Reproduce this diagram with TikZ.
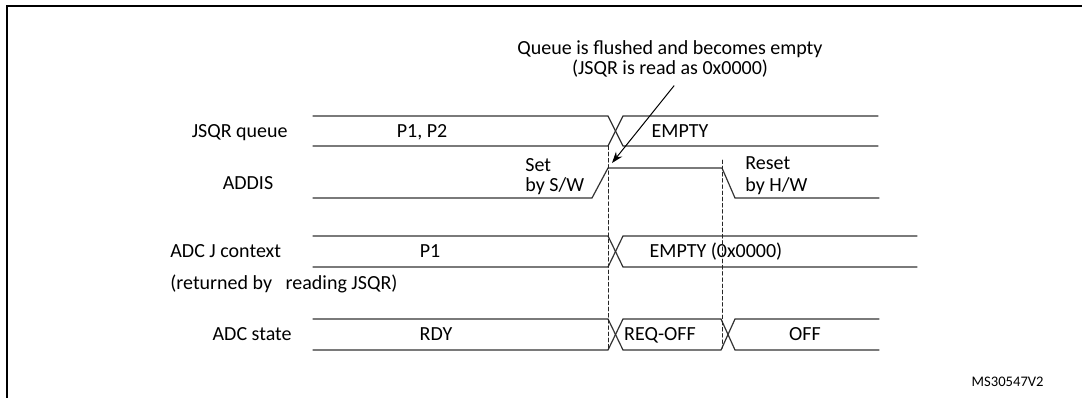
\documentclass[tikz,border=0pt]{standalone}
\usepackage{fontspec}
\setmainfont{Carlito}
\usetikzlibrary{arrows.meta}

\begin{document}
\begin{tikzpicture}[x=0.5pt,y=-0.5pt,>={Stealth[length=2mm,width=1.4mm]},font=\fontsize{10}{12}\selectfont,line cap=round,
  txt/.style={inner sep=0pt,text height=6.4pt,text depth=0pt},
  sig/.style={black!80,line width=0.6pt},
  mark line/.style={black!85,line width=0.5pt,dash pattern=on 1.8pt off 1.3pt}]
\useasboundingbox (0,0) rectangle (1082,398);
\draw[line width=1pt,line cap=butt] (1082,6) -- (7,6) -- (7,398);
\node[txt] (flush) at (670,48) {Queue is flushed and becomes empty};
\node[txt] (readval) at (670,68) {(JSQR is read as 0x0000)};
\node[txt,anchor=east] (jsqrlbl) at (288,131) {JSQR queue};
\node[txt] (addislbl) at (248,183) {ADDIS};
\node[txt,anchor=west] (ctxlbl) at (170,251) {ADC J context};
\node[txt,anchor=west] (retlbl) at (170,283) {(returned by\ \ \ reading JSQR)};
\node[txt,anchor=east] (statelbl) at (292,334) {ADC state};
\draw[sig] (313,116) -- (608,116) -- (623,146) -- (878,146);
\draw[sig] (313,146) -- (608,146) -- (623,116) -- (878,116);
\node[txt] (pp) at (422,131) {P1, P2};
\node[txt] (qempty) at (680,131) {EMPTY};
\draw[sig] (313,198) -- (592,198) -- (608,168) -- (722,168) -- (735,198) -- (879,198);
\node[txt,anchor=west] (set) at (525,165) {Set};
\node[txt,anchor=west] (setsw) at (525,185) {by S/W};
\node[txt,anchor=west] (reset) at (745,163) {Reset};
\node[txt,anchor=west] (resethw) at (745,185) {by H/W};
\draw[sig] (313,236) -- (608,236) -- (623,267) -- (917,267);
\draw[sig] (313,267) -- (608,267) -- (623,236) -- (917,236);
\node[txt] (pone) at (430,251) {P1};
\node[txt] (cempty) at (716,251) {EMPTY (0x0000)};
\draw[sig] (313,319) -- (608,319) -- (623,350) -- (721,350) -- (735,319) -- (879,319);
\draw[sig] (313,350) -- (608,350) -- (623,319) -- (721,319) -- (735,350) -- (879,350);
\node[txt] (rdy) at (436,334) {RDY};
\node[txt] (reqoff) at (660,334) {REQ-OFF};
\node[txt] (off) at (805,334) {OFF};
\draw[mark line] (608,146) -- (608,348);
\draw[mark line] (722,160) -- (722,348);
\coordinate (settop) at (612,163);
\draw[->,line width=0.5pt] ([xshift=2pt,yshift=-5.5pt]readval.south) -- (settop);
\node[txt,anchor=east,text height=4.7pt,font=\fontsize{7.3}{9}\selectfont] (ref) at (1044,382) {MS30547V2};
\end{tikzpicture}
\end{document}
